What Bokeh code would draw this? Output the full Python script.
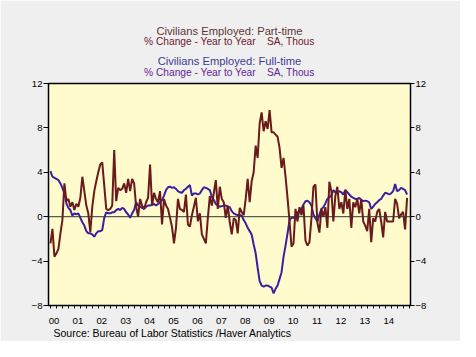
from bokeh.plotting import figure
from bokeh.models import FixedTicker, LinearAxis, Range1d, Span, Title
from bokeh.embed import file_html
from bokeh.resources import INLINE

start_year = 2000
year_labels = ["00", "01", "02", "03", "04", "05", "06", "07", "08", "09",
               "10", "11", "12", "13", "14"]
y_ticks = [-8, -4, 0, 4, 8, 12]

# Civilians Employed: Part-time, % change y/y (monthly, Jan 2000 - Dec 2014)
part_time = [
    -2.4, -1.1, -3.6, -3.3, -2.9, -1.5, -0.3, 3.0, 1.4, 1.6, 0.9, 1.3,
    0.6, 1.15, 0.9, 1.7, 3.6, 2.3, 1.0, 0.3, -1.4, 0.9, 2.3, 3.2,
    4.0, 4.7, 4.9, 2.8, 0.7, 0.6, 0.7, 1.0, 6.0, 1.4, 2.6, 2.4,
    2.5, 3.0, 2.15, 3.4, 2.3, 3.4, 3.0, 0.9, 0.0, 1.6, 1.0, 0.7,
    1.3, 1.7, 4.7, 1.0, 2.15, 1.6, 1.3, 2.3, -0.7, 1.6, 1.0, 0.7,
    -0.1, -0.9, -2.4, -1.0, 1.6, 0.7, 0.6, 0.43, 2.0, -0.7, -0.9, 0.14,
    0.9, 1.7, -0.4, 0.3, -1.6, -2.0, -2.4, -0.1, 1.86, 1.0, 2.15, 3.3,
    0.7, 2.7, 1.6, 1.3, -0.1, 1.0, -0.5, -1.6, -0.14, -0.3, -1.5, 0.8,
    0.43, 0.14, 1.6, 3.4, 1.3, 3.2, 4.0, 6.4, 5.3, 8.4, 9.4, 7.7,
    8.6, 7.9, 9.6, 7.6, 7.6, 7.4, 7.2, 6.2, 4.4, 5.3, 3.6, 1.7,
    -0.43, -2.7, -2.4, 0.7, -0.43, 0.86, 0.14, 1.0, -2.15, -2.6, -2.3, -0.14,
    2.7, 2.9, -0.57, -1.43, 0.7, 0.0, 0.86, -1.0, 3.15, 2.3, -0.43, 1.86,
    2.7, 0.7, 1.3, 0.29, 2.43, 0.7, 1.6, -1.0, 1.3, 0.86, 1.6, 0.29,
    1.6, -0.43, -0.8, -1.3, 0.7, -2.3, -0.14, -0.43, 0.43, 0.7, -0.43, -1.86,
    0.43, -0.43, -0.43, -0.43, -0.43, 1.6, 1.15, -0.14, 0.2, 0.43, -1.15, 1.7,
]

# Civilians Employed: Full-time, % change y/y (monthly, Jan 2000 - Dec 2014)
full_time = [
    4.1, 3.6, 3.5, 3.4, 3.3, 3.0, 2.6, 2.1, 1.2, 0.8, 0.6, 0.1,
    0.3, 0.2, 0.3, -0.1, -0.5, -0.8, -1.3, -1.5, -1.5, -1.6, -1.8, -1.5,
    -1.3, -1.3, -1.2, -0.1, 0.4, 0.3, 0.3, 0.4, 0.4, 0.6, 0.7, 0.6,
    0.8, 0.7, 0.4, 0.2, -0.1, 0.3, 0.6, 1.3, 1.0, 0.9, 0.8, 0.7,
    0.9, 1.0, 1.0, 1.1, 1.15, 1.0, 1.15, 1.3, 1.5, 1.9, 2.4, 2.65,
    2.7, 2.6, 2.65, 2.5, 2.3, 2.2, 2.15, 2.4, 2.5, 2.7, 2.85, 1.9,
    2.1, 2.1, 2.0, 2.1, 2.4, 2.65, 2.6, 2.5, 2.4, 1.8, 1.5, 1.15,
    1.0, 0.9, 0.95, 1.0, 1.0, 0.9, 0.85, 0.5, 0.3, 0.2, 0.15, 0.15,
    0.1, -0.3, -0.6, -1.0, -1.3, -1.6, -2.5, -3.3, -4.6, -5.8, -6.2, -6.3,
    -6.2, -6.2, -6.3, -6.4, -6.9, -6.5, -6.2, -5.6, -5.0, -3.6, -2.6, -1.5,
    -0.3, -0.1, -0.1, -0.1, 0.4, 0.5, 0.7, 1.1, 1.4, 1.43, 1.3, 1.0,
    0.2, -0.14, -0.43, 0.2, 0.7, 0.86, 1.2, 1.6, 1.75, 1.9, 2.4, 2.2,
    2.15, 2.3, 2.2, 2.0, 2.4, 2.2, 2.0, 1.8, 1.7, 1.6, 1.6, 1.7,
    1.5, 1.4, 1.45, 1.4, 1.3, 0.7, 0.9, 1.15, 1.3, 1.5, 1.6, 1.9,
    2.15, 2.1, 2.0, 2.1, 2.3, 2.95, 2.3, 2.4, 2.6, 2.5, 2.4, 2.0,
]

t = [start_year + i / 12 for i in range(len(part_time))]
years = [start_year + i for i in range(len(year_labels))]

FONT = "Liberation Sans"

p = figure(width=460, height=341, output_backend="svg", toolbar_location=None,
           x_range=Range1d(1999.918, 2015.06), y_range=Range1d(-8, 12),
           min_border_left=48, min_border_right=50, min_border_top=83,
           min_border_bottom=36,
           background_fill_color="#fffbcc", border_fill_color="#efefef",
           outline_line_color="black", outline_line_width=1.5)
p.grid.visible = False

label_ticks = [round(y + 0.15, 2) for y in years]
minor = [y + q / 4 for y in range(start_year, start_year + len(year_labels) + 1) for q in range(4)]
xa = p.xaxis[0]
xa.ticker = FixedTicker(ticks=label_ticks, minor_ticks=minor)
xa.major_label_overrides = {k: lab for k, lab in zip(label_ticks, year_labels)}
xa.major_tick_out = 0
xa.major_tick_in = 0
xa.minor_tick_out = 3
xa.minor_tick_in = 0
xa.major_label_standoff = 9
xa.axis_line_color = None
xa.major_label_text_font = FONT
xa.major_label_text_font_size = "9.6px"
xa.major_label_text_color = "black"

ya = p.yaxis[0]
ya.ticker = FixedTicker(ticks=y_ticks)
ya.major_tick_out = 5
ya.major_tick_in = 0
ya.minor_tick_out = 0
ya.major_label_standoff = 1
ya.axis_line_color = None
ya.major_label_text_font = FONT
ya.major_label_text_font_size = "9.6px"
ya.major_label_text_color = "black"

ra = LinearAxis(ticker=FixedTicker(ticks=y_ticks), major_tick_out=4, major_tick_in=0,
                minor_tick_out=0, major_label_standoff=1, axis_line_color=None,
                major_label_text_font=FONT, major_label_text_font_size="9.6px",
                major_label_text_color="black")
p.add_layout(ra, "right")

p.add_layout(Span(location=0, dimension="width", line_color="#333333", line_width=1))

p.line(t, full_time, line_color="#3b1fa3", line_width=2)
p.line(t, part_time, line_color="#6a1a1a", line_width=2)

K = 1.16  # approx text box height per px of font size


def title_box(text, size, height, color):
    # a centered one-line title occupying `height` px in the stack above the plot
    return Title(text=text, align="center", vertical_align="middle",
                 standoff=height - 2 - K * size, text_font=FONT,
                 text_font_size=f"{size}px", text_font_style="normal",
                 text_color=color)


def spacer(height):
    return Title(text=" ", align="center", vertical_align="middle",
                 standoff=height - 2 - K * 2, text_font=FONT, text_font_size="2px")


sub_text = "% Change - Year to Year \u00a0\u00a0\u00a0SA, Thous"
# stacked from the plot upward
p.add_layout(spacer(4.8), "above")
p.add_layout(title_box(sub_text, 10.2, 13.3, "#62259a"), "above")
p.add_layout(title_box("Civilians Employed: Full-time", 11.2, 13.3, "#3e3c96"), "above")
p.add_layout(spacer(8.25), "above")
p.add_layout(title_box(sub_text, 10.2, 11.4, "#6e1a2e"), "above")
p.add_layout(title_box("Civilians Employed: Part-time", 11.2, 11.4, "#5e3636"), "above")

p.add_layout(Title(text="Source:  Bureau of Labor Statistics /Haver Analytics",
                   align="left", vertical_align="middle", offset=5, standoff=-1,
                   text_font=FONT, text_font_size="10.5px", text_font_style="normal",
                   text_color="black"), "below")

open("out.html", "w").write(file_html(p, INLINE))
